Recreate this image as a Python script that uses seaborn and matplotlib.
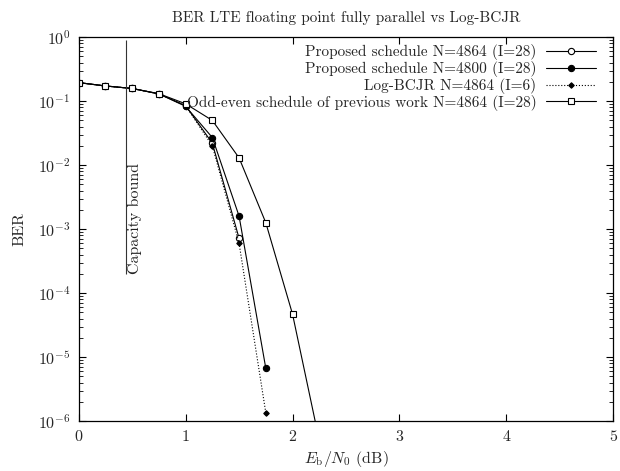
import matplotlib
matplotlib.use("Agg")
import matplotlib.pyplot as plt
import matplotlib.ticker as mticker
import seaborn as sns
import pandas as pd
import numpy as np

# Eb/N0 points (dB)
ebn0 = [0, 0.25, 0.5, 0.75, 1.0, 1.25, 1.5, 1.75, 2.0, 2.25]

# BER values
ber_prop_4864 = [0.195, 0.173, 0.158, 0.130, 0.085, 0.022, 7.2e-4]
ber_prop_4800 = [0.195, 0.173, 0.158, 0.130, 0.083, 0.027, 1.6e-3, 6.7e-6]
ber_logbcjr = [0.195, 0.173, 0.158, 0.130, 0.085, 0.020, 6.0e-4, 1.35e-6]
ber_oddeven = [0.195, 0.173, 0.158, 0.131, 0.091, 0.050, 0.013, 1.26e-3, 4.7e-5, 5e-7]

capacity_ebn0 = 0.44
capacity_span = [2e-4, 0.9]

sns.set_theme(style="ticks")
plt.rcParams['font.family'] = 'serif'
plt.rcParams['font.serif'] = ['cmr10', 'DejaVu Serif']
plt.rcParams['mathtext.fontset'] = 'cm'
plt.rcParams['axes.formatter.use_mathtext'] = True
plt.rcParams['axes.unicode_minus'] = False

FS = 11.5

fig = plt.figure(figsize=(6.2, 4.71), dpi=100)
ax = fig.add_axes([0.127, 0.106, 0.862, 0.815])

series = [
    ("Proposed schedule N=4864 (I=28)", ber_prop_4864,
     dict(marker='o', markersize=4.5, markerfacecolor='white', linestyle='-')),
    ("Proposed schedule N=4800 (I=28)", ber_prop_4800,
     dict(marker='o', markersize=4.5, markerfacecolor='black', linestyle='-')),
    ("Log-BCJR N=4864 (I=6)", ber_logbcjr,
     dict(marker='D', markersize=2.8, markerfacecolor='black', linestyle=':')),
    ("Odd-even schedule of previous work N=4864 (I=28)", ber_oddeven,
     dict(marker='s', markersize=5, markerfacecolor='white', linestyle='-')),
]

for label, ber, style in series:
    df = pd.DataFrame({"ebn0": ebn0[:len(ber)], "ber": ber})
    sns.lineplot(data=df, x="ebn0", y="ber", ax=ax, color='black', label=label,
                 linewidth=0.8, markeredgecolor='black', markeredgewidth=0.8, **style)

ax.vlines(capacity_ebn0, capacity_span[0], capacity_span[1], color='#333333', linewidth=0.8)
ax.text(capacity_ebn0 + 0.02, capacity_span[0], "Capacity bound", rotation=90,
        ha='left', va='bottom', fontsize=FS, color='#222222')

ax.set_yscale('log')
ax.set_xlim(0, 5)
ax.set_ylim(1e-6, 1)
ax.set_xticks([0, 1, 2, 3, 4, 5])
ax.yaxis.set_minor_formatter(mticker.NullFormatter())
ax.set_xlabel(r"$E_\mathrm{b}/N_0$ (dB)", fontsize=FS, labelpad=3)
ax.set_ylabel("BER", fontsize=FS, labelpad=8)
ax.set_title("BER LTE floating point fully parallel vs Log-BCJR", fontsize=FS - 0.5, pad=11)

ax.tick_params(which='both', direction='in', top=True, right=True, labelsize=FS, color='black')
ax.tick_params(which='major', length=5, width=0.8, pad=6)
ax.tick_params(which='minor', length=3, width=0.6)
for s in ax.spines.values():
    s.set_linewidth(0.9)
    s.set_color('black')

ax.legend(loc='upper right', bbox_to_anchor=(0.985, 1.005), frameon=False, markerfirst=False,
          fontsize=11, handlelength=3.3, labelspacing=0.05, borderaxespad=0.2, handletextpad=0.6)

fig.savefig("out.png", dpi=100)
